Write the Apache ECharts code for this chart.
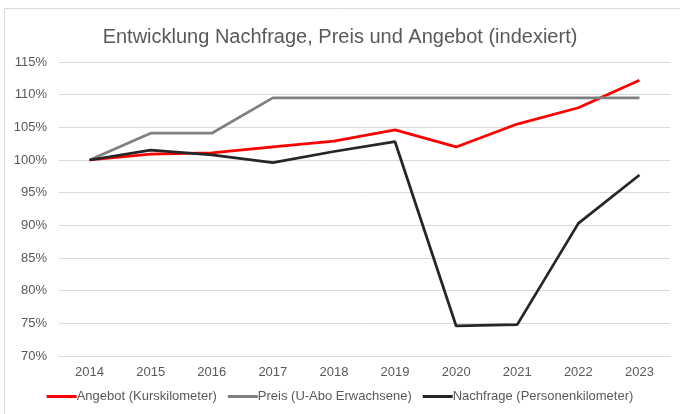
<!DOCTYPE html>
<html>
<head>
<meta charset="utf-8">
<script src="https://cdn.jsdelivr.net/npm/echarts@6/dist/echarts.min.js"></script>
<style>
  html, body { margin: 0; padding: 0; background: #fff; }
  #chart { width: 680px; height: 414px; }
</style>
</head>
<body>
<div id="chart"></div>
<script>
const years = ['2014', '2015', '2016', '2017', '2018', '2019', '2020', '2021', '2022', '2023'];
const angebot = [100, 100.9, 101.1, 102.0, 102.9, 104.6, 102.0, 105.5, 108.0, 112.2];
const preis = [100, 104.1, 104.1, 109.5, 109.5, 109.5, 109.5, 109.5, 109.5, 109.5];
const nachfrage = [100, 101.5, 100.8, 99.6, 101.3, 102.8, 74.6, 74.8, 90.3, 97.7];

const seriesNames = ['Angebot (Kurskilometer)', 'Preis (U-Abo Erwachsene)', 'Nachfrage (Personenkilometer)'];
const seriesColors = ['#ff0000', '#808080', '#262626'];

const chart = echarts.init(document.getElementById('chart'));
const font = 'Liberation Sans, Arial, sans-serif';

function lineSeries(i, data) {
    return {
        name: seriesNames[i],
        type: 'line',
        data: data,
        symbol: 'none',
        lineStyle: { color: seriesColors[i], width: 2.75 },
        itemStyle: { color: seriesColors[i] }
    };
}

chart.setOption({
    animation: false,
    textStyle: { fontFamily: font },
    graphic: [{
        type: 'rect',
        shape: { x: 4.5, y: 8.5, width: 690, height: 420 },
        style: { fill: 'none', stroke: '#d9d9d9', lineWidth: 1 },
        silent: true
    }],
    title: {
        text: 'Entwicklung Nachfrage, Preis und Angebot (indexiert)',
        left: 'center',
        top: 22,
        textStyle: { fontFamily: font, fontSize: 20, fontWeight: 'normal', color: '#595959' }
    },
    grid: { left: 59, right: 10, top: 62, bottom: 58 },
    xAxis: {
        type: 'category',
        data: years,
        boundaryGap: true,
        axisLine: { show: true, lineStyle: { color: '#d9d9d9' } },
        axisTick: { show: false },
        axisLabel: { color: '#595959', fontSize: 13, margin: 10 }
    },
    yAxis: {
        type: 'value',
        min: 70,
        max: 115,
        interval: 5,
        axisLine: { show: false },
        axisTick: { show: false },
        axisLabel: { color: '#595959', fontSize: 13, formatter: '{value}%', margin: 12 },
        splitLine: { lineStyle: { color: '#d9d9d9' } }
    },
    legend: {
        bottom: 6,
        left: 'center',
        itemWidth: 30,
        itemHeight: 3,
        itemGap: 11,
        icon: 'rect',
        textStyle: { color: '#595959', fontSize: 13, fontFamily: font, padding: [0, 0, 0, -5] },
        data: seriesNames
    },
    series: [
        lineSeries(0, angebot),
        lineSeries(1, preis),
        lineSeries(2, nachfrage)
    ]
});
</script>
</body>
</html>
